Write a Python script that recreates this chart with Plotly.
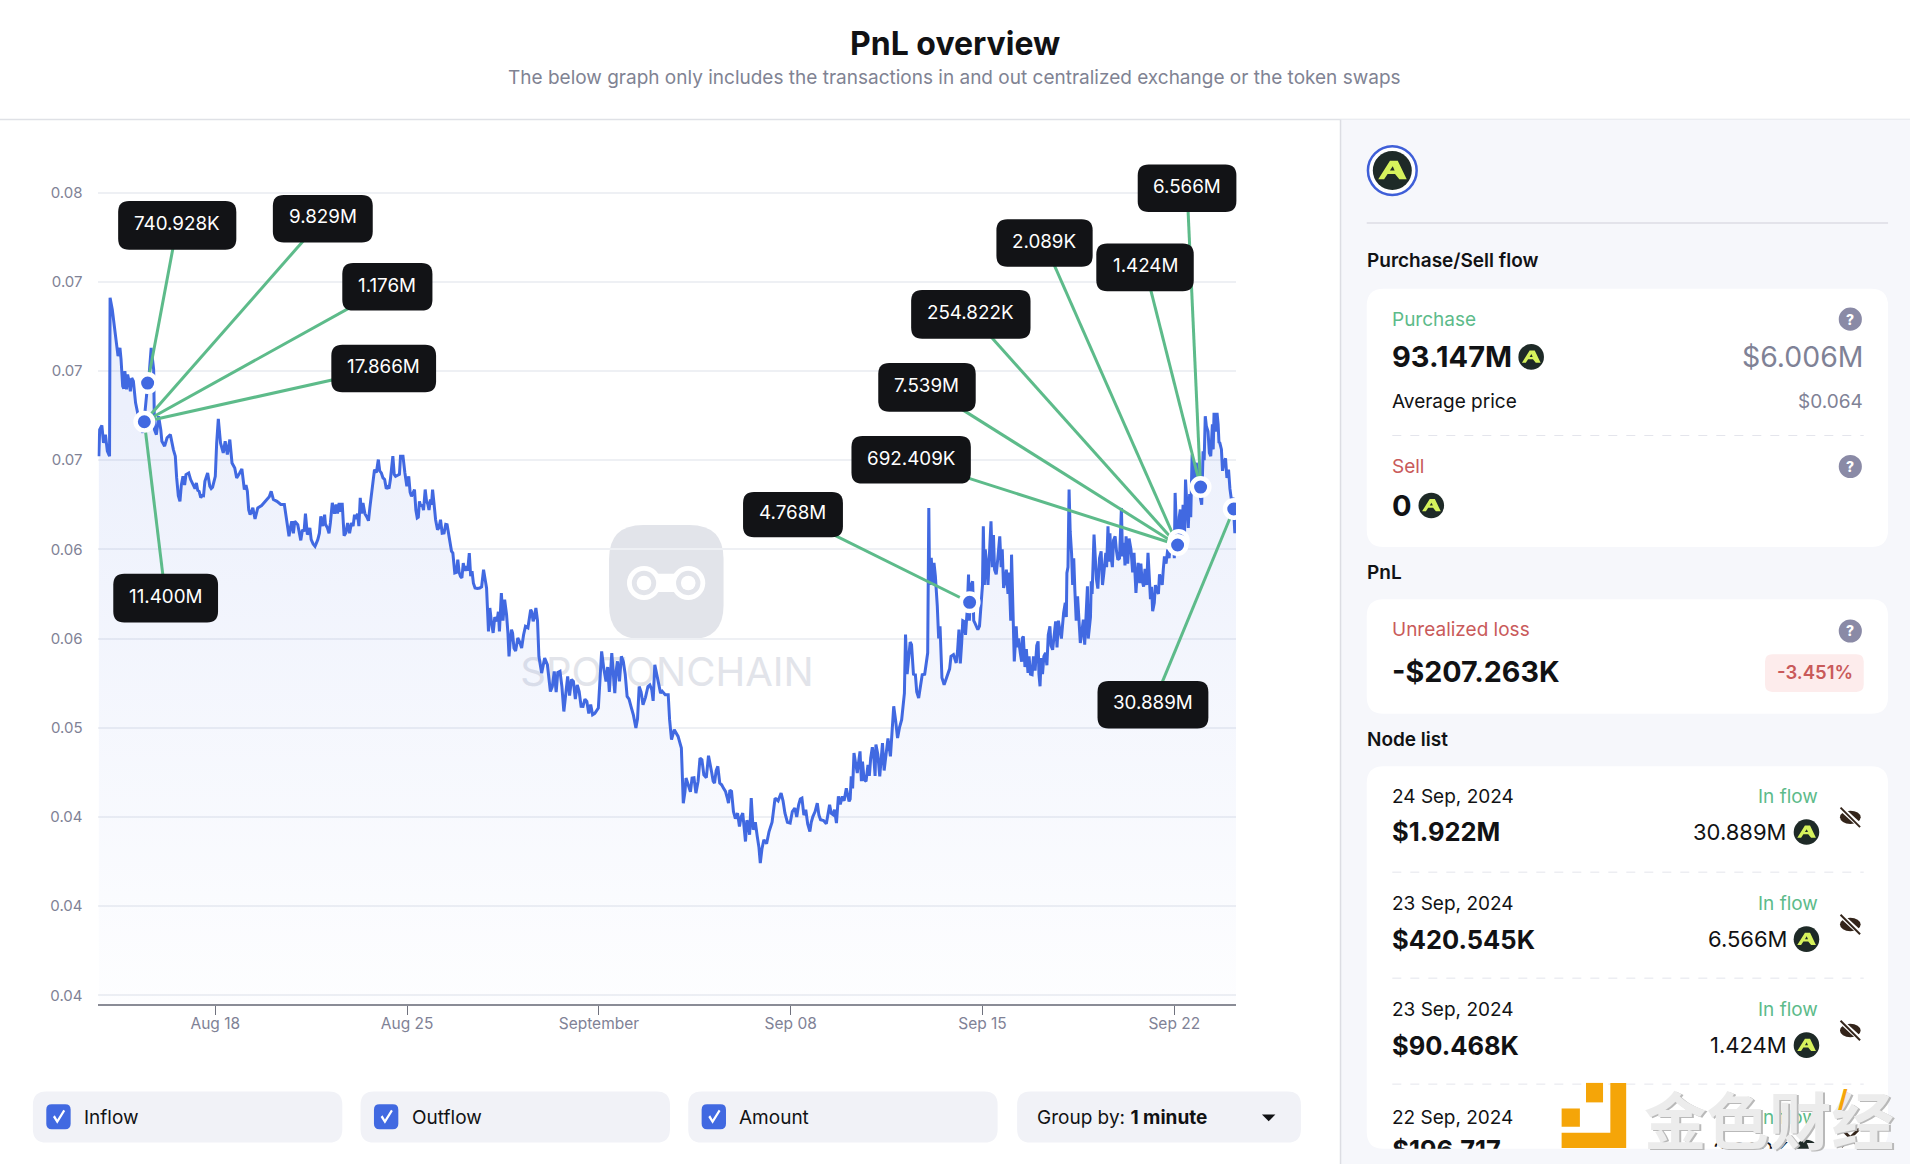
import pandas as pd
import plotly.graph_objects as go

###### DATA #####
base_date = pd.Timestamp("2024-08-18")

# days after Aug 18, price in USD
price_days = [
    -4.25, -4.22, -4.14, -4.08, -4.01, -3.94, -3.86, -3.84, -3.76, -3.69, -3.61, -3.55, -3.48, -3.44, -3.38, -3.30,
    -3.24, -3.16, -3.10, -2.99, -2.91, -2.81, -2.64, -2.50, -2.41, -2.34, -2.25, -2.22, -2.15, -2.07, -1.99, -1.95,
    -1.85, -1.76, -1.64, -1.53, -1.46, -1.41, -1.29, -1.18, -1.07, -0.97, -0.90, -0.79, -0.69, -0.59, -0.48, -0.38,
    -0.28, -0.20, -0.10, 0.00, 0.05, 0.11, 0.19, 0.29, 0.36, 0.44, 0.53, 0.61, 0.71, 0.78, 0.89, 0.97,
    1.06, 1.17, 1.27, 1.37, 1.45, 1.55, 1.69, 1.83, 1.97, 2.04, 2.12, 2.25, 2.39, 2.52, 2.59, 2.69,
    2.79, 2.90, 3.01, 3.08, 3.18, 3.29, 3.36, 3.50, 3.64, 3.74, 3.85, 3.99, 4.09, 4.20, 4.27, 4.41,
    4.52, 4.63, 4.70, 4.83, 4.97, 5.08, 5.19, 5.29, 5.39, 5.53, 5.64, 5.74, 5.81, 5.95, 6.06, 6.18,
    6.30, 6.39, 6.48, 6.58, 6.67, 6.76, 6.85, 6.92, 6.99, 7.06, 7.16, 7.27, 7.37, 7.45, 7.55, 7.66,
    7.76, 7.85, 7.93, 8.04, 8.11, 8.22, 8.35, 8.46, 8.57, 8.67, 8.74, 8.85, 8.95, 9.05, 9.16, 9.27,
    9.37, 9.48, 9.65, 9.79, 9.90, 9.97, 10.02, 10.14, 10.28, 10.37, 10.44, 10.56, 10.63, 10.72, 10.81, 10.90,
    11.04, 11.18, 11.32, 11.51, 11.60, 11.70, 11.81, 11.91, 12.02, 12.12, 12.23, 12.37, 12.58, 12.72, 12.86, 13.07,
    13.28, 13.42, 13.56, 13.77, 13.98, 14.10, 14.26, 14.47, 14.58, 14.68, 14.89, 15.03, 15.17, 15.35, 15.47, 15.61,
    15.79, 15.93, 16.04, 16.25, 16.31, 16.42, 16.53, 16.58, 16.65, 16.75, 16.89, 17.01, 17.08, 17.18, 17.28, 17.40,
    17.54, 17.69, 17.83, 18.00, 18.12, 18.22, 18.34, 18.48, 18.62, 18.73, 18.84, 18.91, 19.06, 19.13, 19.25, 19.35,
    19.45, 19.56, 19.63, 19.78, 19.89, 20.02, 20.21, 20.43, 20.65, 20.79, 20.98, 21.15, 21.29, 21.41, 21.55, 21.70,
    21.81, 21.97, 22.09, 22.30, 22.42, 22.55, 22.67, 22.74, 22.88, 23.03, 23.13, 23.21, 23.31, 23.43, 23.53, 23.68,
    23.82, 23.92, 24.04, 24.11, 24.25, 24.35, 24.47, 24.64, 24.76, 24.90, 25.05, 25.15, 25.19, 25.31, 25.41, 25.55,
    25.67, 25.80, 25.98, 26.04, 26.13, 26.23, 26.35, 26.45, 26.60, 26.75, 26.85, 27.04, 27.14, 27.24, 27.33, 27.44,
    27.49, 27.54, 27.64, 27.72, 27.83, 27.96, 28.03, 28.15, 28.31, 28.44, 28.63, 28.77, 28.87, 29.01, 29.06, 29.16,
    29.23, 29.38, 29.49, 29.66, 29.81, 30.03, 30.10, 30.24, 30.46, 30.56, 30.67, 30.82, 30.96, 31.08, 31.16, 31.25,
    31.37, 31.47, 31.57, 31.68, 31.73, 31.83, 31.90, 31.97, 32.07, 32.16, 32.33, 32.43, 32.58, 32.69, 32.84, 32.94,
    33.07, 33.16, 33.24, 33.42, 33.60, 33.68, 33.82, 34.04, 34.21, 34.35, 34.50, 34.64, 34.86, 35.03, 35.10, 35.22,
    35.41, 35.51, 35.65, 35.80, 35.94, 36.13, 36.23, 36.33, 36.45, 36.56, 36.66, 36.81, 36.98, 37.10, 37.17, 37.27,
]
price_values = [
    .06522, .06671, .06694, .06596, .06643, .06550, .06522, .07410, .07344, .07251, .07176, .07083, .07129, .07064, .06914, .06999,
    .06896, .06952, .06886, .06942, .06821, .06746, .06653, .06877, .06989, .07129, .07008, .06671, .06643, .06746, .06671, .06606,
    .06578, .06625, .06643, .06559, .06522, .06400, .06269, .06409, .06419, .06428, .06391, .06353, .06372, .06325, .06301, .06381,
    .06428, .06353, .06348, .06409, .06596, .06731, .06596, .06540, .06606, .06531, .06615, .06484, .06456, .06400, .06428, .06451,
    .06335, .06325, .06194, .06232, .06170, .06232, .06245, .06269, .06294, .06325, .06279, .06269, .06251, .06251, .06185, .06073,
    .06157, .06157, .06138, .06073, .06110, .06200, .06082, .06054, .06017, .06054, .06185, .06194, .06120, .06148, .06260, .06251,
    .06260, .06260, .06077, .06148, .06148, .06194, .06200, .06288, .06260, .06181, .06232, .06335, .06447, .06503, .06428, .06391,
    .06350, .06391, .06522, .06409, .06419, .06522, .06522, .06428, .06353, .06409, .06297, .06335, .06176, .06269, .06251, .06335,
    .06251, .06279, .06335, .06166, .06110, .06166, .06092, .06138, .06035, .05979, .05867, .05942, .05848, .05923, .05905, .05979,
    .05877, .05783, .05783, .05886, .05783, .05540, .05671, .05531, .05596, .05540, .05755, .05718, .05633, .05400, .05549, .05446,
    .05503, .05446, .05568, .05661, .05596, .05671, .05400, .05306, .05390, .05353, .05203, .05316, .05316, .05091, .05287, .05259,
    .05203, .05119, .05147, .05072, .05110, .05428, .05259, .05418, .05194, .05372, .05372, .05175, .05119, .04998, .05231, .05129,
    .05231, .05213, .05353, .05194, .05204, .05185, .05185, .05045, .04933, .04989, .04951, .04886, .04577, .04718, .04671, .04718,
    .04633, .04830, .04736, .04843, .04746, .04689, .04783, .04680, .04643, .04577, .04643, .04531, .04521, .04446, .04521, .04362,
    .04465, .04605, .04428, .04390, .04241, .04372, .04418, .04605, .04633, .04521, .04465, .04549, .04568, .04605, .04540, .04418,
    .04502, .04577, .04484, .04461, .04568, .04512, .04465, .04615, .04615, .04661, .04587, .04727, .04858, .04746, .04867, .04708,
    .04792, .04830, .04820, .04905, .04727, .04914, .04839, .04839, .05120, .04942, .05045, .05194, .05522, .05381, .05466, .05297,
    .05166, .05297, .05381, .06232, .05952, .05924, .05681, .05568, .05241, .05316, .05400, .05363, .05550, .05475, .05596, .05653,
    .05858, .05718, .05821, .05587, .05550, .05699, .06129, .05924, .06157, .05886, .06073, .05783, .05886, .05718, .05970, .05372,
    .05568, .05419, .05512, .05307, .05297, .05484, .05232, .05400, .05568, .05437, .05596, .05550, .05643, .05868, .06335, .05980,
    .05774, .05737, .05475, .05606, .05466, .05793, .05550, .05821, .06083, .05830, .05989, .05868, .06129, .05961, .06073, .05942,
    .06232, .06036, .06073, .05998, .05755, .05924, .05830, .05980, .05653, .05774, .05830, .05961, .06036, .06316, .06092, .06223,
    .06391, .06120, .06531, .06485, .06298, .06746, .06662, .06522, .06765, .06765, .06597, .06485, .06447, .06260, .06204, .06148,
]

# smaller swings between the points above
detail_days = [
    -3.34, -3.20, -3.05, -2.95, -1.35, -1.24, -1.12, -0.74, -0.64, -0.53, -0.43, -0.33, -0.15,
    1.12, 1.22, 2.74, 2.85, 3.12, 3.24, 3.45, 3.57, 3.80, 3.92, 4.02, 4.15, 4.35, 4.46, 4.58, 4.76, 4.90, 5.03,
    5.13, 5.24, 5.34, 5.46, 5.59, 5.69, 5.88, 6.00, 6.12, 6.24, 6.34, 6.53, 6.72, 7.11, 7.21, 7.32, 7.41, 7.50,
    7.60, 7.71, 7.80, 7.89, 7.98, 8.16, 8.28, 8.41, 8.52, 8.62, 8.80, 8.90, 9.00, 9.10, 9.21, 9.32, 9.42, 9.56,
    9.72, 9.85, 10.08, 10.20, 10.33, 10.50, 10.68, 10.76, 10.85, 10.96, 11.11, 11.25, 11.41, 11.55, 11.65, 11.76,
    12.30, 12.44, 12.50, 12.65, 12.79, 12.93, 13.00, 13.14, 13.21, 13.35, 13.49, 13.63, 13.70, 13.85, 14.04, 14.18,
    14.32, 14.38, 14.52, 14.63, 14.75, 14.82, 14.96, 15.10, 15.26, 15.41, 15.54, 15.70, 15.86, 15.98, 16.12, 16.18,
    17.14, 17.34, 17.47, 17.62, 17.76, 17.92, 18.06, 18.17, 18.28, 18.41, 18.55, 18.68, 18.78, 18.98, 19.19, 19.30,
    19.40, 19.50, 19.71, 19.84, 19.95, 20.12, 20.32, 20.54, 20.72, 20.88, 21.06, 21.22, 21.35, 21.48, 21.62, 21.75,
    21.89, 22.03, 22.20, 22.36, 22.48, 22.60, 22.81, 22.95, 23.08, 23.17, 23.26, 23.37, 23.48, 23.58, 23.62, 23.75,
    23.87, 23.98, 24.08, 24.18, 24.30, 24.41, 24.55, 24.70, 24.83, 24.97, 25.25, 25.36, 25.48, 25.60, 25.73, 25.89,
    26.00, 26.07, 26.18, 26.28, 26.40, 26.52, 26.68, 26.80, 26.94, 27.09, 27.19, 27.28, 27.38, 27.52, 27.58, 27.68,
    27.78, 27.89, 28.00, 28.07, 28.10, 28.20, 28.25, 28.36, 28.40, 28.50, 28.56, 28.68, 28.72, 28.82, 28.93, 28.97,
    29.03, 29.12, 29.19, 29.27, 29.31, 29.43, 29.45, 29.55, 29.60, 29.70, 29.75, 29.86, 29.92, 29.98, 30.06, 30.14,
    30.19, 30.30, 30.35, 30.40, 30.50, 30.61, 30.72, 30.77, 30.88, 31.02, 31.06, 31.12, 31.20, 31.29, 31.33, 31.42,
    31.52, 31.62, 31.78, 31.86, 31.94, 32.00, 32.11, 32.21, 32.27, 32.38, 32.50, 32.53, 32.62, 32.65, 32.74, 32.78,
    32.89, 33.00, 33.03, 33.11, 33.20, 33.30, 33.35, 33.48, 33.53, 33.64, 33.74, 33.78, 33.88, 33.93, 33.99, 34.08,
    34.13, 34.17, 34.27, 34.31, 34.42, 34.46, 34.56, 34.60, 34.70, 34.76, 34.81, 34.92, 34.97, 35.00, 35.07, 35.14,
    35.18, 35.27, 35.32, 35.37, 35.46, 35.56, 35.60, 35.70, 35.75, 35.85, 35.90, 36.00, 36.05, 36.09, 36.17, 36.28,
    36.39, 36.42, 36.50, 36.60, 36.63, 36.72, 36.76, 36.87, 36.92, 37.03, 37.14, 37.21, 37.24,
]
detail_values = [
    .06900, .06980, .06960, .06880, .06300, .06360, .06360, .06340, .06330, .06290, .06300, .06400, .06340,
    .06360, .06220, .06120, .06090, .06050, .06100, .06120, .06030, .06090, .06130, .06140, .06090, .06200, .06200, .06210, .06090, .06090, .06130,
    .06170, .06130, .06200, .06200, .06160, .06300, .06430, .06440, .06400, .06340, .06340, .06420, .06420, .06320, .06320, .06220, .06180, .06240,
    .06220, .06270, .06220, .06250, .06260, .06120, .06090, .06140, .06080, .05990, .05870, .05870, .05840, .05880, .05880, .05850, .05810, .05780,
    .05790, .05830, .05590, .05620, .05650, .05600, .05530, .05480, .05530, .05430, .05480, .05520, .05560, .05650, .05620, .05600,
    .05230, .05200, .05310, .05230, .05190, .05180, .05270, .05160, .05240, .05120, .05160, .05080, .05130, .05080, .05300, .05330,
    .05340, .05200, .05300, .05320, .05260, .05400, .05300, .05160, .05070, .05050, .05200, .05170, .05240, .05150, .05290, .05250,
    .04640, .04640, .04720, .04700, .04820, .04720, .04800, .04700, .04760, .04690, .04660, .04610, .04650, .04490, .04500, .04440,
    .04480, .04400, .04470, .04330, .04320, .04350, .04470, .04590, .04590, .04470, .04530, .04500, .04600, .04510, .04460, .04470,
    .04530, .04510, .04480, .04510, .04520, .04540, .04570, .04590, .04610, .04600, .04660, .04800, .04810, .04700, .04810, .04700,
    .04730, .04890, .04730, .04850, .04820, .04760, .04940, .04990, .05040, .05000, .05300, .05480, .05300, .05200, .05220, .05300,
    .05420, .05800, .05800, .05850, .05500, .05280, .05280, .05330, .05410, .05430, .05360, .05600, .05520, .05600, .05800, .05600,
    .05560, .05570, .05800, .05800, .06000, .05800, .06000, .05900, .06080, .05860, .05950, .05900, .06000, .05820, .05750, .05870,
    .05600, .05550, .05450, .05450, .05500, .05370, .05500, .05340, .05440, .05400, .05300, .05400, .05320, .05460, .05300, .05390,
    .05300, .05420, .05350, .05520, .05460, .05520, .05450, .05600, .05500, .05700, .05620, .05900, .06100, .05800, .05950, .05600,
    .05620, .05530, .05680, .05500, .05620, .05750, .05950, .05780, .05950, .05800, .05980, .05900, .05930, .06090, .05900, .06050,
    .05990, .05950, .06130, .05960, .05910, .05920, .06060, .05870, .05980, .05850, .05810, .05920, .05790, .05890, .05800, .05850,
    .05720, .05790, .05700, .05800, .05750, .05860, .05800, .05890, .05920, .06000, .05950, .05990, .06100, .05950, .06150, .06000,
    .06180, .06020, .06250, .06060, .06250, .06310, .06180, .06460, .06310, .06450, .06320, .06250, .06550, .06500, .06690, .06540,
    .06700, .06560, .06660, .06700, .06600, .06560, .06440, .06510, .06400, .06340, .06290, .06090, .06200,
]

node_days = [-2.47, -2.59, 27.53, 35.16, 35.12, 35.96, 37.17]
node_prices = [.06932, .06715, .05703, .06052, .06024, .06349, .06226]

callout_labels = ["740.928K", "9.829M", "1.176M", "17.866M", "11.400M", "4.768M", "692.409K",
                  "7.539M", "254.822K", "2.089K", "1.424M", "6.566M", "30.889M"]
callout_nodes = [0, 1, 1, 1, 1, 2, 4, 4, 4, 4, 5, 5, 6]

x_tick_days = [0, 7, 14, 21, 28, 35]
x_tick_labels = ["Aug 18", "Aug 25", "September", "Sep 08", "Sep 15", "Sep 22"]
y_tick_values = [.08, .075, .07, .065, .06, .055, .05, .045, .04, .035]
y_tick_labels = ["0.08", "0.07", "0.07", "0.07", "0.06", "0.06", "0.05", "0.04", "0.04", "0.04"]

node_dates = ["24 Sep, 2024", "23 Sep, 2024", "23 Sep, 2024"]
node_usd = ["$1.922M", "$420.545K", "$90.468K"]
node_amounts = ["30.889M", "6.566M", "1.424M"]
###### DATA #####

W, H = 1910, 1164
S = W / 1568  # layout below is measured on a 1568 wide view
FONT = "Inter"
BLUE = "#4169e1"
GREEN = "#5dbb8a"
RED = "#c95a5a"
GREY = "#7f8296"
INK = "#111214"

# main plot box in page pixels
PLOT_L, PLOT_R, PLOT_T, PLOT_B = 97.5, 1236, 130, 1003.5
PX_DAY = 27.4
DAY0_PX = 215.3
P080_PX = 192.5
PX_005 = 89.2


def day_at(px):
    return (px - DAY0_PX) / PX_DAY


def price_at(py):
    return .08 - (py - P080_PX) / PX_005 * .005


def to_date(days):
    return base_date + pd.to_timedelta(days, unit="D")


def X(v):
    return v * S / W


def Y(v):
    return 1 - v * S / H


shapes, notes = [], []


def path_shape(path, fill, layer="below", line=None):
    shapes.append(dict(type="path", xref="paper", yref="paper", path=path, fillcolor=fill, layer=layer,
                       line=line or dict(width=0)))


def rbox(x0, y0, x1, y1, r, fill, layer="below", line=None):
    rx, ry = r * S / W, r * S / H
    a, b, c, d = X(x0), X(x1), Y(y0), Y(y1)
    p = (f"M{a + rx},{c} L{b - rx},{c} Q{b},{c} {b},{c - ry} L{b},{d + ry} Q{b},{d} {b - rx},{d} "
         f"L{a + rx},{d} Q{a},{d} {a},{d + ry} L{a},{c - ry} Q{a},{c} {a + rx},{c} Z")
    path_shape(p, fill, layer, line)


def poly(points, fill, layer="below"):
    p = "M" + " L".join(f"{X(a)},{Y(b)}" for a, b in points) + " Z"
    path_shape(p, fill, layer)


def circle(cx, cy, r, fill, layer="below", line=None, ry=None):
    ry = ry or r
    shapes.append(dict(type="circle", xref="paper", yref="paper", x0=X(cx - r), x1=X(cx + r), y0=Y(cy + ry),
                       y1=Y(cy - ry), fillcolor=fill, layer=layer, line=line or dict(width=0)))


def hline(x0, x1, y, color, width=1, dash="solid", layer="below"):
    shapes.append(dict(type="line", xref="paper", yref="paper", x0=X(x0), x1=X(x1), y0=Y(y), y1=Y(y),
                       layer=layer, line=dict(color=color, width=width, dash=dash)))


def seg(x0, y0, x1, y1, color, width, layer="below"):
    shapes.append(dict(type="line", xref="paper", yref="paper", x0=X(x0), x1=X(x1), y0=Y(y0), y1=Y(y1),
                       layer=layer, line=dict(color=color, width=width)))


def txt(x, y, s, size, color=INK, weight=400, anchor="left", family=FONT):
    if anchor == "left":
        x -= 0.8
    notes.append(dict(xref="paper", yref="paper", x=X(x), y=Y(y), text=s, showarrow=False, xanchor=anchor,
                      yanchor="middle", borderpad=0, font=dict(family=family, size=size, color=color, weight=weight)))


def token(cx, cy, r):
    circle(cx, cy, r, "#1e2a27")
    poly([(cx + a * r, cy + b * r) for a, b in [(-.72, .45), (-.12, -.5), (.28, -.5), (.74, .45), (.36, .45),
                                                (.14, .18), (-.24, .18), (-.42, .45)]], "#d6f25c")
    poly([(cx + a * r, cy + b * r) for a, b in [(.02, -.22), (-.12, .0), (.12, .0)]], "#1e2a27")


def help_icon(cx, cy):
    circle(cx, cy, 9.5, "#8a8aa6")
    txt(cx, cy, "?", 14, "white", 800, "center")


def eye_off(cx, cy):
    circle(cx, cy, 8.5, "#33241a", ry=5.5)
    seg(cx - 6, cy - 6, cx + 7, cy + 6, "white", 5)
    seg(cx - 8, cy - 8, cx + 8, cy + 8, "#33241a", 2)


# page header and side panel
hline(0, 1568, 98, "#dfe1e6", 1.5)
rbox(1100, 98, 1568, 956, 0.01, "#f6f7fb")
seg(1100.5, 98, 1100.5, 956, "#dcdde3", 1.5)
txt(784, 36, "PnL overview", 32, INK, 700, "center")
txt(784, 64, "The below graph only includes the transactions in and out centralized exchange or the token swaps",
    19, "#808393", 400, "center")

# side panel content
circle(1143, 140, 20, "white", line=dict(color="#3f5fd8", width=2.5))
token(1143, 140, 16)
hline(1122, 1550, 183, "#dcdde5", 1.5)
txt(1122, 214, "Purchase/Sell flow", 19, INK, 600)
rbox(1122, 237, 1550, 449, 14, "white")
txt(1143, 262, "Purchase", 19, GREEN)
help_icon(1519, 262)
txt(1143, 293, "93.147M", 29, INK, 700)
token(1257, 293, 10.5)
txt(1530, 293, "$6.006M", 28.4, GREY, 400, "right")
txt(1143, 330, "Average price", 19, INK)
txt(1530, 330, "$0.064", 19, GREY, 400, "right")
hline(1143, 1530, 357.5, "#e4e5ec", 1, "dash")
txt(1143, 383, "Sell", 19, RED)
help_icon(1519, 383)
txt(1143, 415, "0", 29, INK, 700)
token(1175, 415, 10.5)

txt(1122, 470, "PnL", 19, INK, 600)
rbox(1122, 492, 1550, 586, 14, "white")
txt(1143, 517, "Unrealized loss", 19, RED)
help_icon(1519, 518)
txt(1143, 551, "-$207.263K", 28.7, INK, 700)
rbox(1449, 537, 1530, 568, 6, "#fdecec")
txt(1490, 552, "-3.451%", 18.5, RED, 600, "center")

txt(1122, 607, "Node list", 19, INK, 600)
rbox(1122, 629, 1550, 943, 14, "white")
row_tops = [654, 742, 829]
for top, date, usd, amount in zip(row_tops, node_dates, node_usd, node_amounts):
    txt(1143, top, date, 19)
    txt(1143, top + 29, usd, 25.5, INK, 700)
    txt(1493, top, "In flow", 19, GREEN, 400, "right")
    txt(1468, top + 29, amount, 22, INK, 400, "right")
    token(1483, top + 29, 10.5)
    eye_off(1519, top + 17)
for y in [716, 803, 890]:
    hline(1143, 1530, y, "#e4e5ec", 1, "dash")
txt(1143, 917, "22 Sep, 2024", 19)
txt(1493, 917, "In flow", 19, GREEN, 400, "right")

# filters under the chart
for x0, x1, name in [(27, 281, "Inflow"), (296, 550, "Outflow"), (565, 819, "Amount")]:
    rbox(x0, 896, x1, 938, 11, "#f1f2f7")
    rbox(x0 + 11, 906.5, x0 + 31, 927, 4.5, BLUE)
    poly([(x0 + 16.5, 917), (x0 + 18, 915.5), (x0 + 20, 919), (x0 + 25, 911), (x0 + 26.5, 912), (x0 + 20, 922.5)],
         "white")
    txt(x0 + 42, 917, name, 19)
rbox(835, 896, 1068, 938, 11, "#f1f2f7")
txt(851, 917, "Group by: <b>1 minute</b>", 19)
poly([(1036, 915), (1047, 915), (1041.5, 920.5)], INK)

# faint logo behind the line
rbox(500, 431, 594, 525, 28, "#e2e4ea")
rbox(528, 471, 565, 486, 3, "white")
for cx in (528.7, 565):
    circle(cx, 478.6, 14, "white")
    circle(cx, 478.6, 10, "#e2e4ea")
    circle(cx, 478.6, 6, "white")

# callout boxes
callout_boxes = [(97, 165, 194, 205), (224, 160, 306, 199), (281, 216, 355, 255), (272, 283, 358, 322),
                 (93, 471, 179, 511), (610, 404, 692, 441), (699, 358, 797, 397), (721, 298, 801, 338),
                 (748, 238, 846, 278), (818, 180, 897, 219), (900, 200, 980, 239), (934, 135, 1015, 174),
                 (901, 559, 992, 598)]
for (x0, y0, x1, y1), label in zip(callout_boxes, callout_labels):
    rbox(x0, y0, x1, y1, 9, "#121316", "above")
    txt((x0 + x1) / 2, (y0 + y1) / 2 - 1.5, label, 18.8, "white", 400, "center")

# 金色财经 stamp
stamp = "#f5a508"
poly([(1282, 910), (1297, 910), (1297, 925), (1282, 925)], stamp, "above")
poly([(1302, 889), (1316, 889), (1316, 905), (1302, 905)], stamp, "above")
poly([(1322, 889), (1335, 889), (1335, 942.5), (1282, 942.5), (1282, 930), (1322, 930)], stamp, "above")
txt(1351, 918.5, "金色财经", 62.5, "#b9b9b9", 700, family="Noto Sans CJK SC")
txt(1349.5, 917, "金色财经", 62.5, "#ececec", 700, family="Noto Sans CJK SC")
txt(1513, 902, "/", 24, stamp, 800, "center")

# line points read at two levels of detail, merged in time order
price = pd.DataFrame({"day": price_days + detail_days, "value": price_values + detail_values}).sort_values("day")

fig = go.Figure()

fig.add_trace(go.Scatter(
    x=[to_date(day_at(667))], y=[price_at(676)], mode="text", text=["SPOTONCHAIN"], textposition="middle center",
    textfont=dict(family=FONT, size=40, color="#e2e4ea"), hoverinfo="skip"))

fig.add_trace(go.Scatter(
    x=[to_date(d) for d in price["day"]], y=price["value"].tolist(), mode="lines", fill="tozeroy",
    line=dict(color=BLUE, width=3),
    fillgradient=dict(type="vertical", start=.0345, stop=.0677,
                      colorscale=[[0, "rgba(65,105,225,0.01)"], [1, "rgba(65,105,225,0.10)"]])))

for (x0, y0, x1, y1), node in zip(callout_boxes, callout_nodes):
    end_x = (x0 + x1) / 2 * S
    end_y = (y0 + y1) / 2 * S
    fig.add_trace(go.Scatter(
        x=[to_date(node_days[node]), to_date(day_at(end_x))], y=[node_prices[node], price_at(end_y)],
        mode="lines", line=dict(color=GREEN, width=3), hoverinfo="skip"))

fig.add_trace(go.Scatter(
    x=[to_date(d) for d in node_days], y=node_prices, mode="markers",
    marker=dict(size=17.5, color=BLUE, line=dict(color="white", width=4.5))))

# last row of the node list runs under the card edge, so it goes on its own clipped axes
fig.add_trace(go.Scatter(
    x=[1143], y=[946], mode="text", text=["$196.717"], textposition="middle right", xaxis="x2", yaxis="y2",
    textfont=dict(family=FONT, size=25.5, color=INK, weight=700), cliponaxis=True, hoverinfo="skip"))
fig.add_trace(go.Scatter(
    x=[1468], y=[946], mode="text", text=["2.089K"], textposition="middle left", xaxis="x2", yaxis="y2",
    textfont=dict(family=FONT, size=22, color=INK), cliponaxis=True, hoverinfo="skip"))
fig.add_trace(go.Scatter(
    x=[1483], y=[946], mode="markers", xaxis="x2", yaxis="y2", cliponaxis=True, hoverinfo="skip",
    marker=dict(size=25, color="#1e2a27")))
fig.add_trace(go.Scatter(
    x=[1519], y=[934], mode="markers", xaxis="x2", yaxis="y2", cliponaxis=True, hoverinfo="skip",
    marker=dict(symbol="x-thin", size=18, line=dict(color="#33241a", width=3))))

fig.update_layout(
    width=W, height=H, margin=dict(l=0, r=0, t=0, b=0), showlegend=False,
    paper_bgcolor="white", plot_bgcolor="rgba(0,0,0,0)", hovermode=False,
    font=dict(family=FONT), shapes=shapes, annotations=notes,
    xaxis=dict(
        type="date", domain=[PLOT_L / W, PLOT_R / W], anchor="y",
        range=[to_date(day_at(PLOT_L)), to_date(day_at(PLOT_R))],
        tickvals=[to_date(d) for d in x_tick_days], ticktext=x_tick_labels,
        showgrid=False, zeroline=False, showline=True, linecolor="#8a8c96", linewidth=2,
        ticks="outside", ticklen=9, tickwidth=1, tickcolor="#70727e", ticklabelstandoff=-4,
        tickfont=dict(family=FONT, size=15.5, color=GREY)),
    yaxis=dict(
        domain=[1 - PLOT_B / H, 1 - PLOT_T / H], anchor="x",
        range=[price_at(PLOT_B), price_at(PLOT_T)],
        tickvals=y_tick_values, ticktext=y_tick_labels,
        showgrid=True, gridcolor="#eef0f4", gridwidth=1.5, zeroline=False, showline=False,
        ticks="outside", ticklen=11, tickcolor="rgba(0,0,0,0)",
        tickfont=dict(family=FONT, size=15, color=GREY)),
    xaxis2=dict(domain=[0, 1], range=[0, 1568], visible=False, anchor="y2"),
    yaxis2=dict(domain=[1 - 943 * S / H, 1], range=[943, 0], visible=False, anchor="x2"),
)

fig.write_html("out.html", config=dict(displayModeBar=False),
               post_script="document.body.style.margin='0';document.body.style.overflow='hidden';")
